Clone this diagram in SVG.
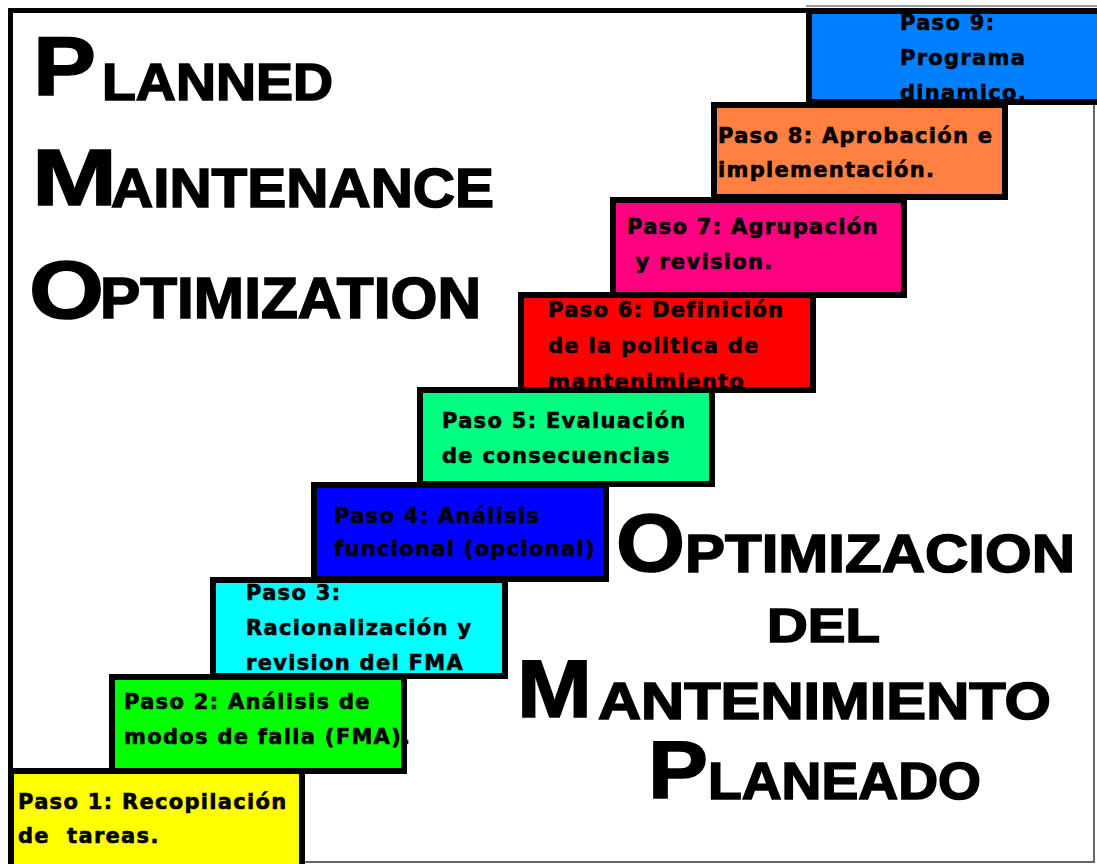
<svg xmlns="http://www.w3.org/2000/svg" width="1097" height="864" viewBox="0 0 1097 864">
<style>
.box{stroke:#000;stroke-width:6;fill:none}
.t{font-family:"DejaVu Sans",Verdana,sans-serif;font-weight:700;font-size:21px;letter-spacing:1.3px;fill:#000;stroke:#000;stroke-width:0.6px}
.big{font-family:"Liberation Sans",Arial,sans-serif;font-weight:700;fill:#000;stroke:#000;stroke-width:1.6px}
</style>
<rect x="0" y="0" width="1097" height="864" fill="#fff"/>
<g id="frame">
<line x1="806" y1="6" x2="1097" y2="6" stroke="#777" stroke-width="1.5"/>
<line x1="1094" y1="105" x2="1094" y2="862" stroke="#666" stroke-width="2"/>
<line x1="305" y1="862" x2="1095" y2="862" stroke="#666" stroke-width="2"/>
<path d="M10.5 864 V10.5 H808" fill="none" stroke="#000" stroke-width="5"/>
</g>
<g id="title-en">
<text class="big"><tspan x="33" y="95" font-size="84" textLength="63" lengthAdjust="spacingAndGlyphs">P</tspan><tspan x="102" y="100" font-size="52" textLength="231" lengthAdjust="spacingAndGlyphs">LANNED</tspan></text>
<text class="big"><tspan x="32" y="205" font-size="80" textLength="85" lengthAdjust="spacingAndGlyphs">M</tspan><tspan x="111" y="207" font-size="56" textLength="383" lengthAdjust="spacingAndGlyphs">AINTENANCE</tspan></text>
<text class="big"><tspan x="29" y="318" font-size="82" textLength="75" lengthAdjust="spacingAndGlyphs">O</tspan><tspan x="100" y="318" font-size="57" textLength="381" lengthAdjust="spacingAndGlyphs">PTIMIZATION</tspan></text>
</g>
<g id="title-es">
<text class="big"><tspan x="616" y="571" font-size="82" textLength="69" lengthAdjust="spacingAndGlyphs">O</tspan><tspan x="685" y="572" font-size="54" textLength="390" lengthAdjust="spacingAndGlyphs">PTIMIZACION</tspan></text>
<text class="big" x="767" y="642" font-size="49" textLength="113" lengthAdjust="spacingAndGlyphs">DEL</text>
<text class="big"><tspan x="517" y="717" font-size="82" textLength="75" lengthAdjust="spacingAndGlyphs">M</tspan><tspan x="598" y="719" font-size="52" textLength="453" lengthAdjust="spacingAndGlyphs">ANTENIMIENTO</tspan></text>
<text class="big"><tspan x="648" y="798" font-size="82" textLength="60" lengthAdjust="spacingAndGlyphs">P</tspan><tspan x="708" y="799" font-size="52" textLength="273" lengthAdjust="spacingAndGlyphs">LANEADO</tspan></text>
</g>
<g id="paso9">
<rect x="809" y="11" width="291" height="91" fill="#0080FF"/>
<text class="t" x="900" y="30">Paso 9:</text>
<text class="t" x="900" y="65">Programa</text>
<text class="t" x="900" y="100">dinamico.</text>
<rect class="box" x="809" y="11" width="291" height="91"/>
</g>
<g id="paso8">
<rect x="714" y="105" width="291" height="92" fill="#FF8040"/>
<text class="t" x="718" y="143">Paso 8: Aprobación e</text>
<text class="t" x="718" y="177">implementación.</text>
<rect class="box" x="714" y="105" width="291" height="92"/>
</g>
<g id="paso7">
<rect x="613" y="200" width="291" height="95" fill="#FF0080"/>
<text class="t" x="627" y="234">Paso 7: Agrupación</text>
<text class="t" x="627" y="269" xml:space="preserve"> y revision.</text>
<rect class="box" x="613" y="200" width="291" height="95"/>
</g>
<g id="paso6">
<rect x="521" y="295" width="292" height="95" fill="#FF0000"/>
<text class="t" x="548" y="317">Paso 6: Definición</text>
<text class="t" x="548" y="353">de la politica de</text>
<text class="t" x="548" y="389">mantenimiento</text>
<rect class="box" x="521" y="295" width="292" height="95"/>
</g>
<g id="paso5">
<rect x="420" y="390" width="292" height="94" fill="#00FF80"/>
<text class="t" x="442" y="428">Paso 5: Evaluación</text>
<text class="t" x="442" y="463">de consecuencias</text>
<rect class="box" x="420" y="390" width="292" height="94"/>
</g>
<g id="paso4">
<rect x="314" y="485" width="292" height="94" fill="#0000FF"/>
<text class="t" x="334" y="523">Paso 4: Análisis</text>
<text class="t" x="334" y="556">funcional (opcional)</text>
<rect class="box" x="314" y="485" width="292" height="94"/>
</g>
<g id="paso3">
<rect x="213" y="580" width="292" height="96" fill="#00FFFF"/>
<text class="t" x="246" y="600">Paso 3:</text>
<text class="t" x="246" y="635">Racionalización y</text>
<text class="t" x="246" y="670">revision del FMA</text>
<rect class="box" x="213" y="580" width="292" height="96"/>
</g>
<g id="paso2">
<rect x="112" y="677" width="292" height="94" fill="#00FF00"/>
<text class="t" x="124" y="709">Paso 2: Análisis de</text>
<text class="t" x="124" y="744">modos de falla (FMA).</text>
<rect class="box" x="112" y="677" width="292" height="94"/>
</g>
<g id="paso1">
<rect x="11" y="771" width="291" height="100" fill="#FFFF00"/>
<text class="t" x="18" y="809">Paso 1: Recopilación</text>
<text class="t" x="18" y="843" xml:space="preserve">de  tareas.</text>
<rect class="box" x="11" y="771" width="291" height="100"/>
</g>
</svg>
